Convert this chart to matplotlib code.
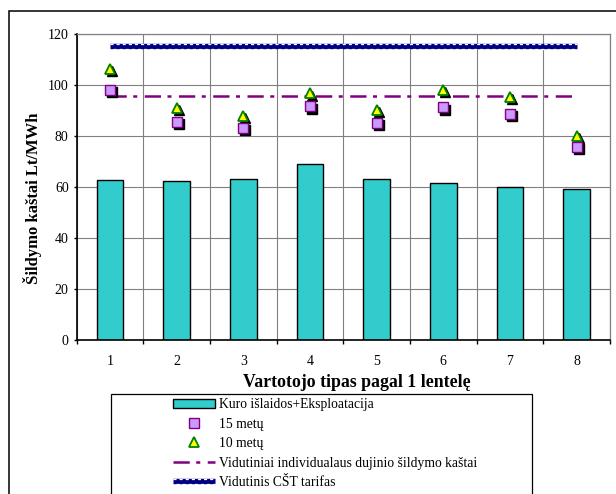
import numpy as np
import matplotlib
matplotlib.use('Agg')
import matplotlib.pyplot as plt
from matplotlib import patheffects
from matplotlib.patches import Rectangle
from matplotlib.transforms import ScaledTranslation

plt.rcParams['font.family'] = ['Liberation Serif', 'DejaVu Serif']
plt.rcParams['font.size'] = 10

# vartotojo tipai ir kaštai, Lt/MWh
types = [1, 2, 3, 4, 5, 6, 7, 8]
fuel_ops = [62.6, 62.2, 63.1, 69.0, 63.1, 61.7, 60.1, 59.3]
cost_15y = [97.9, 85.6, 83.1, 91.5, 84.9, 91.1, 88.6, 75.7]
cost_10y = [106.3, 90.9, 87.6, 96.6, 90.1, 98.0, 95.3, 79.9]
gas_avg = [95.4, 95.4, 95.4, 95.4, 95.4, 95.4, 95.4, 95.4]
cst_tariff = [115.0, 115.0, 115.0, 115.0, 115.0, 115.0, 115.0, 115.0]

labels = ['Kuro išlaidos+Eksploatacija', '15 metų', '10 metų',
          'Vidutiniai individualaus dujinio šildymo kaštai',
          'Vidutinis CŠT tarifas']

fig = plt.figure(figsize=(6.16, 4.94), dpi=100)
ax = fig.add_axes([0.1242, 0.3117, 0.8661, 0.6201])

bars = ax.bar(types, fuel_ops, width=0.4, color='#33CCCC',
              edgecolor='black', linewidth=1.0, zorder=2)

# wavy navy line: thick stroke with alternating white notches on both edges
notch = dict(linewidth=0.9, foreground='white', capstyle='butt')
wave = [patheffects.Normal(),
        patheffects.Stroke(offset=(0, 1.5), dashes=dict(dash_offset=0, dash_list=[2.2, 2.2]), **notch),
        patheffects.Stroke(offset=(0, -1.5), dashes=dict(dash_offset=2.2, dash_list=[2.2, 2.2]), **notch)]
cst_line, = ax.plot(types, cst_tariff, color='#000080', lw=3.9,
                    solid_capstyle='butt', path_effects=wave, zorder=3)

gas_line, = ax.plot(types, gas_avg, color='#800080', lw=1.8,
                    ls=(0, (6.5, 2.6, 1.6, 3.0)), zorder=3)

shadow = ax.transData + ScaledTranslation(1.5 / 72, -1.5 / 72, fig.dpi_scale_trans)
ax.plot(types, cost_15y, ls='none', marker='s', ms=7, mfc='black', mec='black',
        transform=shadow, zorder=4)
sq, = ax.plot(types, cost_15y, ls='none', marker='s', ms=7, mfc='#CC99FF',
              mec='#800080', mew=1, zorder=5)
ax.plot(types, cost_10y, ls='none', marker='^', ms=7.5, mfc='black', mec='black',
        transform=shadow, zorder=4)
tri, = ax.plot(types, cost_10y, ls='none', marker='^', ms=7.5, mfc='#FFFF00',
               mec='#008000', mew=1.3, zorder=5)

ax.set_xlim(0.5, 8.5)
ax.set_ylim(0, 120)
ax.set_xticks(types)
ax.set_xticks(np.arange(0.5, 9, 1), minor=True)
ax.set_yticks(np.arange(0, 121, 20))
ax.tick_params(axis='x', which='major', length=0, pad=11)
ax.tick_params(axis='x', which='minor', length=3, width=1, color='black')
ax.tick_params(axis='y', length=2, width=1, pad=3.6)
ax.grid(axis='x', which='minor', color='#808080', lw=0.8)
ax.grid(axis='y', which='major', color='#808080', lw=0.8)
ax.set_axisbelow(True)

for side in ['left', 'bottom']:
    ax.spines[side].set_linewidth(1.2)
    ax.spines[side].set_color('black')
for side in ['top', 'right']:
    ax.spines[side].set_linewidth(0.9)
    ax.spines[side].set_color('#808080')

ax.set_xlabel('Vartotojo tipas pagal 1 lentelę', fontweight='bold', fontsize=12.8)
ax.set_ylabel('Šildymo kaštai Lt/MWh', fontweight='bold', fontsize=12)
ax.xaxis.set_label_coords(0.525, -0.11)
ax.yaxis.set_label_coords(-0.0647, 0.462)

# chart area border and legend box run past the bottom edge
fig.add_artist(Rectangle((9 / 616, -0.2), 1.2, 0.9777 + 0.2, transform=fig.transFigure,
                         fill=False, ec='black', lw=1.1))
fig.add_artist(Rectangle((111 / 616, -0.2), 421 / 616, 0.2024 + 0.2,
                         transform=fig.transFigure, fill=False, ec='black', lw=0.9))

fig.legend([bars, sq, tri, gas_line, cst_line], labels, loc='upper left',
           bbox_to_anchor=(172.5 / 616, (494 - 398) / 494), frameon=False,
           borderpad=0, borderaxespad=0, handlelength=3.1, handleheight=0.65,
           handletextpad=0.3, labelspacing=0.48, fontsize=9.8)

fig.savefig('out.png', dpi=100)
